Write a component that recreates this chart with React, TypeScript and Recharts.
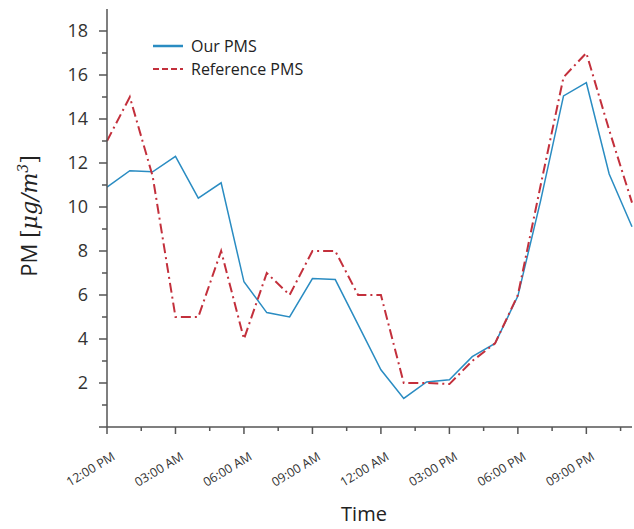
import { Legend, Line, LineChart, XAxis, YAxis } from "recharts";

const hours = [0, 1, 2, 3, 4, 5, 6, 7, 8, 9, 10, 11, 12, 13, 14, 15, 16, 17, 18, 19, 20, 21, 22, 23];
const ourPms = [10.9, 11.65, 11.6, 12.3, 10.4, 11.1, 6.6, 5.2, 5.0, 6.75, 6.7, 4.65, 2.6, 1.3, 2.05, 2.15, 3.2, 3.8, 5.95, 10.3, 15.05, 15.65, 11.5, 9.1];
const refPms = [13.0, 15.0, 11.4, 5.0, 5.0, 8.0, 4.0, 7.0, 6.0, 8.0, 8.0, 6.0, 6.0, 2.0, 2.0, 1.95, 3.0, 3.8, 6.0, 11.0, 15.9, 17.0, 13.5, 10.2];

const xTicks = [0, 1.5, 3, 4.5, 6, 7.5, 9, 10.5, 12, 13.5, 15, 16.5, 18, 19.5, 21, 22.5];
const xLabels = ["12:00 PM", "03:00 AM", "06:00 AM", "09:00 AM", "12:00 AM", "03:00 PM", "06:00 PM", "09:00 PM"];
const yTicks = [0, 1, 2, 3, 4, 5, 6, 7, 8, 9, 10, 11, 12, 13, 14, 15, 16, 17, 18];

const data = hours.map((h, i) => ({ hour: h, our: ourPms[i], ref: refPms[i] }));

const AXIS = "#555";
const BLUE = "#2a8cc2";
const RED = "#c3303c";
const FONT = "'Open Sans', sans-serif";
const SERIF = "'DejaVu Serif', serif";

function XTick(props: any) {
  const { x, y, payload } = props;
  const v = payload.value as number;
  const major = v % 3 === 0;
  const lx = x + 9;
  const ly = y + 32;
  return (
    <g>
      <line x1={x} x2={x} y1={y} y2={y + (major ? 7 : 4)} stroke={AXIS} strokeWidth={1.5} />
      {major && (
        <text x={lx} y={ly} textAnchor="end" transform={`rotate(-31 ${lx} ${ly})`} fontSize={12.5} fontFamily={FONT} fill="#333">
          {xLabels[v / 3]}
        </text>
      )}
    </g>
  );
}

function YTick(props: any) {
  const { x, y, payload } = props;
  const v = payload.value as number;
  const major = v % 2 === 0;
  return (
    <g>
      <line x1={x - (major ? 8 : 5)} x2={x} y1={y} y2={y} stroke={AXIS} strokeWidth={1.5} />
      {major && v > 0 && (
        <text x={x - 19} y={y + 6} textAnchor="end" fontSize={18} fontFamily={FONT} fill="#333">
          {v}
        </text>
      )}
    </g>
  );
}

function LegendBox() {
  const row = { display: "flex", alignItems: "center", height: 23 } as const;
  return (
    <div style={{ fontFamily: FONT, fontSize: 16, color: "#222" }}>
      <div style={row}>
        <svg width={40} height={10}>
          <line x1={2} x2={32} y1={5} y2={5} stroke={BLUE} strokeWidth={2.5} />
        </svg>
        <span>Our PMS</span>
      </div>
      <div style={row}>
        <svg width={40} height={10}>
          <line x1={2} x2={32} y1={5} y2={5} stroke={RED} strokeWidth={2} strokeDasharray="6 3" />
        </svg>
        <span>Reference PMS</span>
      </div>
    </div>
  );
}

export default function App() {
  return (
    <div style={{ position: "absolute", left: 0, top: 0, width: 634, height: 529, background: "#fff" }}>
      <LineChart width={634} height={529} data={data} margin={{ top: 9, right: 2, left: 47, bottom: 42 }}>
        <XAxis
          dataKey="hour"
          type="number"
          domain={[0, 23]}
          ticks={xTicks}
          interval={0}
          height={60}
          tickLine={false}
          tickSize={0}
          tickMargin={0}
          tick={<XTick />}
          axisLine={{ stroke: AXIS, strokeWidth: 1.5 }}
        />
        <XAxis xAxisId="top" orientation="top" dataKey="hour" type="number" domain={[0, 23]} height={0} tick={false} tickLine={false} axisLine={{ stroke: AXIS, strokeWidth: 1.5 }} />
        <YAxis
          type="number"
          domain={[0, 19]}
          ticks={yTicks}
          interval={0}
          width={60}
          tickLine={false}
          tickSize={0}
          tickMargin={0}
          tick={<YTick />}
          axisLine={{ stroke: AXIS, strokeWidth: 1.5 }}
        />
        <YAxis yAxisId="right" orientation="right" domain={[0, 19]} width={0} tick={false} tickLine={false} axisLine={{ stroke: AXIS, strokeWidth: 1.5 }} />
        <Legend
          layout="vertical"
          align="center"
          verticalAlign="middle"
          content={<LegendBox />}
          wrapperStyle={{ left: 151, top: 34, width: "auto", height: "auto" }}
        />
        <Line dataKey="our" stroke={BLUE} strokeWidth={1.5} dot={false} isAnimationActive={false} />
        <Line dataKey="ref" stroke={RED} strokeWidth={2} strokeDasharray="10 4 2 4" dot={false} isAnimationActive={false} />
      </LineChart>
      <svg width={634} height={529} style={{ position: "absolute", left: 0, top: 0, pointerEvents: "none" }}>
        <text x={364} y={521} textAnchor="middle" fontSize={20} fontFamily={FONT} fill="#222">
          Time
        </text>
        <text transform="translate(37 216) rotate(-90)" textAnchor="middle" fontSize={22} fill="#222">
          <tspan fontFamily={FONT}>PM </tspan>
          <tspan fontFamily={SERIF}>[</tspan>
          <tspan fontFamily={SERIF} fontStyle="italic">μg/m</tspan>
          <tspan fontFamily={SERIF} fontStyle="italic" fontSize={14} dy={-9}>3</tspan>
          <tspan fontFamily={SERIF} dy={9}>]</tspan>
        </text>
      </svg>
    </div>
  );
}
